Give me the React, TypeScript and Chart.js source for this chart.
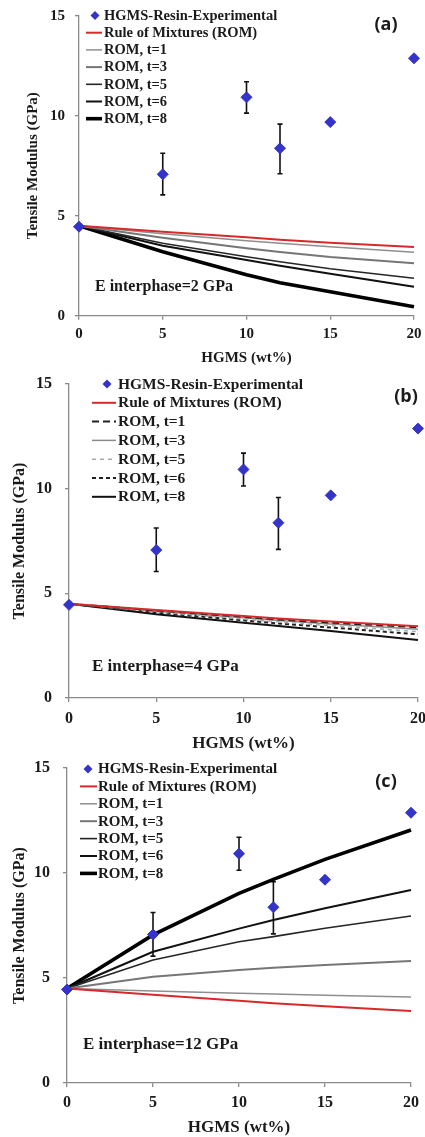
import React, { useEffect, useRef } from "react";
import { Chart, registerables } from "chart.js";

Chart.register(...registerables);

// ---------------- data ----------------
const HGMS_WT = [0, 5, 10, 12, 15, 20];
const EXP_MODULUS = [4.45, 7.07, 10.92, 8.37, 9.68, 12.87];
const EXP_ERR_LOW: (number | null)[] = [null, 6.04, 10.13, 7.1, null, null];
const EXP_ERR_HIGH: (number | null)[] = [null, 8.12, 11.7, 9.58, null, null];

const ROM_MODULUS = [4.5, 4.2, 3.92, 3.8, 3.65, 3.43];

// (a) E interphase = 2 GPa
const A_T1 = [4.5, 4.1, 3.75, 3.62, 3.45, 3.17];
const A_T3 = [4.5, 3.9, 3.37, 3.18, 2.93, 2.62];
const A_T5 = [4.5, 3.62, 2.95, 2.7, 2.35, 1.87];
const A_T6 = [4.5, 3.5, 2.78, 2.5, 2.1, 1.45];
const A_T8 = [4.5, 3.2, 2.05, 1.65, 1.2, 0.45];

// (b) E interphase = 4 GPa
const B_T1 = [4.5, 4.18, 3.88, 3.75, 3.6, 3.38];
const B_T3 = [4.5, 4.15, 3.83, 3.7, 3.53, 3.28];
const B_T5 = [4.5, 4.12, 3.77, 3.63, 3.45, 3.17];
const B_T6 = [4.5, 4.08, 3.71, 3.56, 3.37, 3.04];
const B_T8 = [4.5, 4.0, 3.6, 3.44, 3.2, 2.77];

// (c) E interphase = 12 GPa
const C_T1 = [4.5, 4.38, 4.27, 4.24, 4.18, 4.1];
const C_T3 = [4.5, 5.06, 5.38, 5.49, 5.62, 5.81];
const C_T5 = [4.5, 5.86, 6.73, 6.97, 7.37, 7.95];
const C_T6 = [4.5, 6.25, 7.35, 7.76, 8.32, 9.19];
const C_T8 = [4.5, 7.05, 9.03, 9.7, 10.65, 12.05];

const X_TICKS = [0, 5, 10, 15, 20];
const Y_TICKS = [0, 5, 10, 15];

const LEGEND_LABELS = [
  "HGMS-Resin-Experimental",
  "Rule of Mixtures (ROM)",
  "ROM, t=1",
  "ROM, t=3",
  "ROM, t=5",
  "ROM, t=6",
  "ROM, t=8",
];
const PANEL_LABELS = ["(a)", "(b)", "(c)"];
const INTERPHASE_LABELS = ["E interphase=2 GPa", "E interphase=4 GPa", "E interphase=12 GPa"];
const X_TITLE = "HGMS (wt%)";
const Y_TITLE = "Tensile Modulus (GPa)";

// ---------------- styles ----------------
const BLUE = "#3434C8";
const RED = "#D62A2A";
const TEXT = "#1a1a1a";
const AXIS = "#8a8a8a";
const SERIF = "'Liberation Serif', 'Times New Roman', serif";
const SANS = "'Open Sans', 'Liberation Sans', sans-serif";

type CurveStyle = { color: string; width: number; dash: number[] };

const STYLE_SOLID_SET: CurveStyle[] = [
  { color: RED, width: 2, dash: [] },
  { color: "#8e8e8e", width: 1.5, dash: [] },
  { color: "#767676", width: 2, dash: [] },
  { color: "#262626", width: 1.6, dash: [] },
  { color: "#111111", width: 2, dash: [] },
  { color: "#000000", width: 3.6, dash: [] },
];
const STYLE_DASH_SET: CurveStyle[] = [
  { color: RED, width: 2, dash: [] },
  { color: "#222222", width: 2, dash: [7, 4] },
  { color: "#8a8a8a", width: 1.5, dash: [] },
  { color: "#aaaaaa", width: 1.5, dash: [4, 4] },
  { color: "#222222", width: 2, dash: [4, 3] },
  { color: "#111111", width: 2, dash: [] },
];

type Spec = {
  idx: number;
  top: number;
  height: number;
  curves: number[][];
  styles: CurveStyle[];
  pad: { top: number; right: number };
  yAxisWidth: number;
  xAxisHeight: number;
  tickFont: number;
  xTickPad: number;
  yTickPad: number;
  xTitleFont: number;
  yTitleFont: number;
  xTitlePad: number;
  yTitlePad: number;
  legend: { x1: number; x2: number; marker: number; textX: number; y0: number; dy: number; font: number };
  label: { x: number; y: number; size: number };
  eText: { x: number; y: number; size: number };
};

const SPECS: Spec[] = [
  {
    idx: 0,
    top: 0,
    height: 372,
    curves: [ROM_MODULUS, A_T1, A_T3, A_T5, A_T6, A_T8],
    styles: STYLE_SOLID_SET,
    pad: { top: 15.7, right: 11 },
    yAxisWidth: 79,
    xAxisHeight: 56.3,
    tickFont: 15,
    xTickPad: 5,
    yTickPad: 10,
    xTitleFont: 15,
    yTitleFont: 15,
    xTitlePad: 6.5,
    yTitlePad: 25.5,
    legend: { x1: 86, x2: 102, marker: 95, textX: 104, y0: 15.5, dy: 17.2, font: 14.5 },
    label: { x: 386, y: 25, size: 18 },
    eText: { x: 95, y: 287, size: 16 },
  },
  {
    idx: 1,
    top: 370,
    height: 384,
    curves: [ROM_MODULUS, B_T1, B_T3, B_T5, B_T6, B_T8],
    styles: STYLE_DASH_SET,
    pad: { top: 14, right: 7 },
    yAxisWidth: 69,
    xAxisHeight: 56,
    tickFont: 16,
    xTickPad: 7,
    yTickPad: 13,
    xTitleFont: 17,
    yTitleFont: 16,
    xTitlePad: 1.5,
    yTitlePad: 11.5,
    legend: { x1: 92, x2: 116, marker: 107, textX: 118, y0: 14, dy: 18.8, font: 15.5 },
    label: { x: 406, y: 27, size: 18 },
    eText: { x: 92, y: 296.7, size: 17 },
  },
  {
    idx: 2,
    top: 750,
    height: 387,
    curves: [ROM_MODULUS, C_T1, C_T3, C_T5, C_T6, C_T8],
    styles: STYLE_SOLID_SET,
    pad: { top: 18, right: 14 },
    yAxisWidth: 67,
    xAxisHeight: 54,
    tickFont: 16,
    xTickPad: 6.5,
    yTickPad: 13,
    xTitleFont: 17,
    yTitleFont: 16,
    xTitlePad: 0.5,
    yTitlePad: 12,
    legend: { x1: 80, x2: 97, marker: 88, textX: 98, y0: 19, dy: 17.4, font: 15 },
    label: { x: 386, y: 32, size: 18 },
    eText: { x: 83, y: 295, size: 17 },
  },
];

function diamond(ctx: CanvasRenderingContext2D, x: number, y: number, r: number) {
  ctx.beginPath();
  ctx.moveTo(x - r, y);
  ctx.lineTo(x, y - r);
  ctx.lineTo(x + r, y);
  ctx.lineTo(x, y + r);
  ctx.closePath();
  ctx.fill();
}

function makeOverlay(spec: Spec) {
  return {
    id: "overlay" + spec.idx,
    beforeDatasetsDraw(chart: any) {
      const ctx: CanvasRenderingContext2D = chart.ctx;
      const xs = chart.scales.x;
      const ys = chart.scales.y;
      ctx.save();
      ctx.strokeStyle = "#111";
      ctx.lineWidth = 1.6;
      HGMS_WT.forEach((xv, i) => {
        const lo = EXP_ERR_LOW[i];
        const hi = EXP_ERR_HIGH[i];
        if (lo == null || hi == null) return;
        const px = xs.getPixelForValue(xv);
        const pl = ys.getPixelForValue(lo);
        const ph = ys.getPixelForValue(hi);
        ctx.beginPath();
        ctx.moveTo(px, pl);
        ctx.lineTo(px, ph);
        ctx.moveTo(px - 2.5, pl);
        ctx.lineTo(px + 2.5, pl);
        ctx.moveTo(px - 2.5, ph);
        ctx.lineTo(px + 2.5, ph);
        ctx.stroke();
      });
      ctx.restore();
    },
    afterDraw(chart: any) {
      const ctx: CanvasRenderingContext2D = chart.ctx;
      const L = spec.legend;
      ctx.save();
      ctx.textBaseline = "middle";
      ctx.textAlign = "left";
      ctx.font = `bold ${L.font}px ${SERIF}`;
      chart.data.datasets.forEach((ds: any, i: number) => {
        const y = L.y0 + i * L.dy;
        if (i === 0) {
          ctx.fillStyle = BLUE;
          diamond(ctx, L.marker, y, 4.5);
        } else {
          ctx.strokeStyle = ds.borderColor;
          ctx.lineWidth = ds.borderWidth;
          ctx.setLineDash(ds.borderDash || []);
          ctx.beginPath();
          ctx.moveTo(L.x1, y);
          ctx.lineTo(L.x2, y);
          ctx.stroke();
          ctx.setLineDash([]);
        }
        ctx.fillStyle = TEXT;
        ctx.fillText(ds.label, L.textX, y + 0.5);
      });
      // panel label
      ctx.font = `bold ${spec.label.size}px ${SANS}`;
      ctx.textAlign = "center";
      ctx.fillStyle = TEXT;
      ctx.fillText(PANEL_LABELS[spec.idx], spec.label.x, spec.label.y);
      // interphase annotation
      ctx.font = `bold ${spec.eText.size}px ${SERIF}`;
      ctx.textAlign = "left";
      ctx.fillText(INTERPHASE_LABELS[spec.idx], spec.eText.x, spec.eText.y);
      ctx.restore();
    },
  };
}

function Panel({ spec }: { spec: Spec }) {
  const ref = useRef<HTMLCanvasElement>(null);
  useEffect(() => {
    const canvas = ref.current;
    if (!canvas) return;
    const datasets: any[] = [
      {
        label: LEGEND_LABELS[0],
        data: HGMS_WT.map((x, i) => ({ x, y: EXP_MODULUS[i] })),
        showLine: false,
        pointStyle: "rectRot",
        pointRadius: 5.5,
        pointBorderWidth: 1,
        backgroundColor: BLUE,
        borderColor: BLUE,
        clip: false,
      },
      ...spec.curves.map((vals, k) => ({
        label: LEGEND_LABELS[k + 1],
        data: HGMS_WT.map((x, i) => ({ x, y: vals[i] })),
        showLine: true,
        pointRadius: 0,
        borderColor: spec.styles[k].color,
        backgroundColor: spec.styles[k].color,
        borderWidth: spec.styles[k].width,
        borderDash: spec.styles[k].dash,
        tension: 0,
        fill: false,
        clip: false,
      })),
    ];
    const chart = new Chart(canvas, {
      type: "scatter",
      data: { datasets },
      options: {
        animation: false,
        responsive: false,
        maintainAspectRatio: false,
        events: [],
        layout: { padding: { top: spec.pad.top, right: spec.pad.right, left: 0, bottom: 0 } },
        plugins: { legend: { display: false }, tooltip: { enabled: false } },
        scales: {
          x: {
            type: "linear",
            min: 0,
            max: 20,
            afterBuildTicks: (s: any) => {
              s.ticks = X_TICKS.map((v) => ({ value: v }));
            },
            afterFit: (s: any) => {
              s.height = spec.xAxisHeight;
              s.paddingLeft = 0;
              s.paddingRight = 0;
            },
            border: { display: true, color: AXIS, width: 1.3 },
            grid: { display: true, drawOnChartArea: false, drawTicks: true, tickLength: 4, color: AXIS, lineWidth: 1.3 },
            ticks: {
              color: TEXT,
              padding: spec.xTickPad,
              maxRotation: 0,
              font: { family: SERIF, size: spec.tickFont, weight: "bold" },
            },
            title: {
              display: true,
              text: X_TITLE,
              color: TEXT,
              font: { family: SERIF, size: spec.xTitleFont, weight: "bold", lineHeight: 1 },
              padding: { top: 0, bottom: spec.xTitlePad },
            },
          },
          y: {
            type: "linear",
            min: 0,
            max: 15,
            afterBuildTicks: (s: any) => {
              s.ticks = Y_TICKS.map((v) => ({ value: v }));
            },
            afterFit: (s: any) => {
              s.width = spec.yAxisWidth;
              s.paddingTop = 0;
              s.paddingBottom = 0;
            },
            border: { display: true, color: AXIS, width: 1.3 },
            grid: { display: true, drawOnChartArea: false, drawTicks: true, tickLength: 4, color: AXIS, lineWidth: 1.3 },
            ticks: {
              color: TEXT,
              padding: spec.yTickPad,
              font: { family: SERIF, size: spec.tickFont, weight: "bold" },
            },
            title: {
              display: true,
              text: Y_TITLE,
              color: TEXT,
              font: { family: SERIF, size: spec.yTitleFont, weight: "bold", lineHeight: 1 },
              padding: { top: spec.yTitlePad, bottom: 0 },
            },
          },
        },
      } as any,
      plugins: [makeOverlay(spec)],
    });
    return () => chart.destroy();
  }, [spec]);
  return (
    <canvas
      ref={ref}
      width={425}
      height={spec.height}
      style={{ position: "absolute", left: 0, top: spec.top, width: 425, height: spec.height }}
    />
  );
}

export default function App() {
  return (
    <div style={{ position: "absolute", left: 0, top: 0, width: 425, height: 1137, background: "#ffffff", overflow: "hidden" }}>
      {SPECS.map((s) => (
        <Panel key={s.idx} spec={s} />
      ))}
    </div>
  );
}
